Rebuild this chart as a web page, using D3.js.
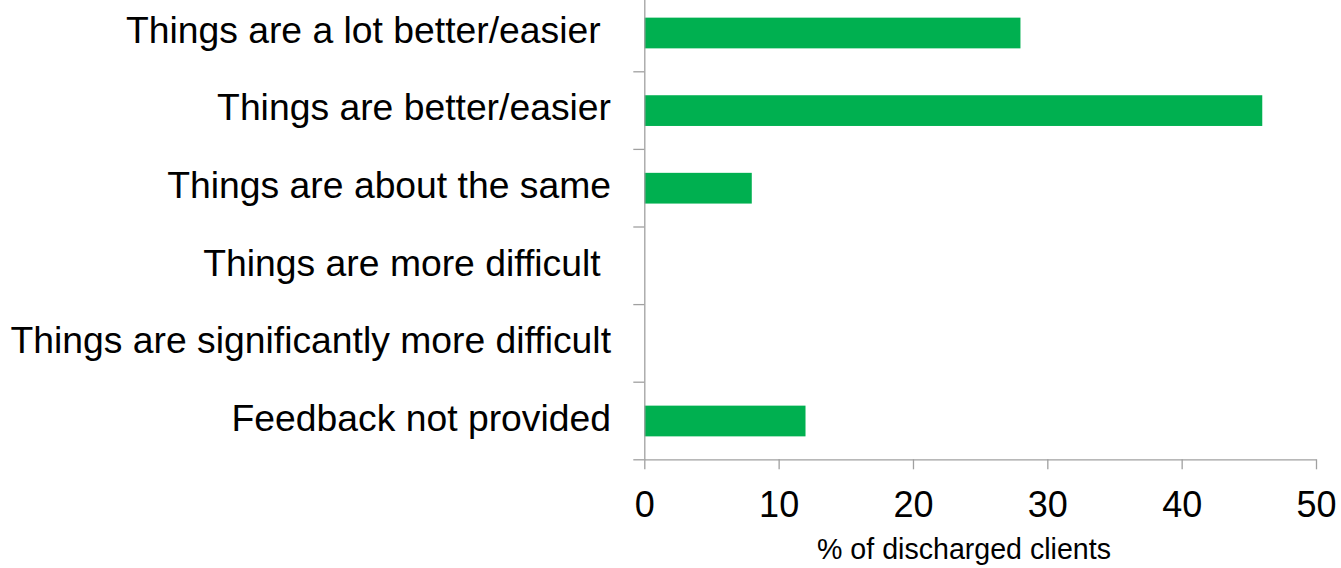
<!DOCTYPE html>
<html>
<head>
<meta charset="utf-8">
<script src="https://cdn.jsdelivr.net/npm/d3@7"></script>
<style>
  body { margin: 0; background: #fff; }
  svg { display: block; font-family: "Liberation Sans", Arial, sans-serif; }
  .axis path, .axis line { stroke: #a0a0a0; stroke-width: 1.3; }
</style>
</head>
<body>
<svg width="1341" height="568"></svg>
<script>
var categories = [
    "Things are a lot better/easier ",
    "Things are better/easier",
    "Things are about the same",
    "Things are more difficult ",
    "Things are significantly more difficult",
    "Feedback not provided"
];
var values = [28, 46, 8, 0, 0, 12];
var xTicks = [0, 10, 20, 30, 40, 50];
var xTitle = "% of discharged clients";

var svg = d3.select("svg"),
    width = +svg.attr("width"),
    height = +svg.attr("height");

var plot = {left: 644.3, right: 1316, top: -6.3, bottom: 459.3};

var x = d3.scaleLinear()
    .domain([0, 50])
    .range([plot.left, plot.right]);

var y = d3.scaleBand()
    .domain(categories)
    .range([plot.top, plot.bottom])
    .padding(0);

// linear index scale for the tick marks between categories
var yIdx = d3.scaleLinear()
    .domain([0, categories.length])
    .range([plot.top, plot.bottom]);

var barH = y.bandwidth() * 0.396;

svg.append("g")
    .attr("fill", "#00b050")
    .selectAll("rect")
    .data(values)
    .enter().append("rect")
    .attr("x", x(0))
    .attr("y", function(d, i) { return y(categories[i]) + (y.bandwidth() - barH) / 2 + 0.5; })
    .attr("width", function(d) { return x(d) - x(0); })
    .attr("height", barH);

// y axis: line + ticks at band boundaries
svg.append("g")
    .attr("class", "axis axis--y")
    .attr("transform", "translate(" + plot.left + ",0)")
    .call(d3.axisLeft(yIdx).tickValues(d3.range(1, categories.length + 1)).tickSize(11).tickSizeOuter(0).tickFormat(""));

// x axis
var gx = svg.append("g")
    .attr("class", "axis axis--x")
    .attr("transform", "translate(0," + plot.bottom + ")")
    .call(d3.axisBottom(x).tickValues(xTicks).tickSize(10).tickSizeOuter(0).tickPadding(22));
gx.selectAll("text")
    .attr("fill", "#000")
    .attr("font-size", 36)
    .attr("font-family", "Liberation Sans, Arial, sans-serif");

// category labels
svg.append("g")
    .selectAll("text")
    .data(categories)
    .enter().append("text")
    .attr("x", 611)
    .attr("y", function(d) { return y(d) + y.bandwidth() / 2 + 10.3; })
    .attr("text-anchor", "end")
    .attr("font-size", 37.3)
    .style("white-space", "pre")
    .text(function(d) { return d; });

// x axis title, sits a bit left of the plot centre as in the original
svg.append("text")
    .attr("x", 964)
    .attr("y", 559.3)
    .attr("text-anchor", "middle")
    .attr("font-size", 28.6)
    .text(xTitle);
</script>
</body>
</html>
